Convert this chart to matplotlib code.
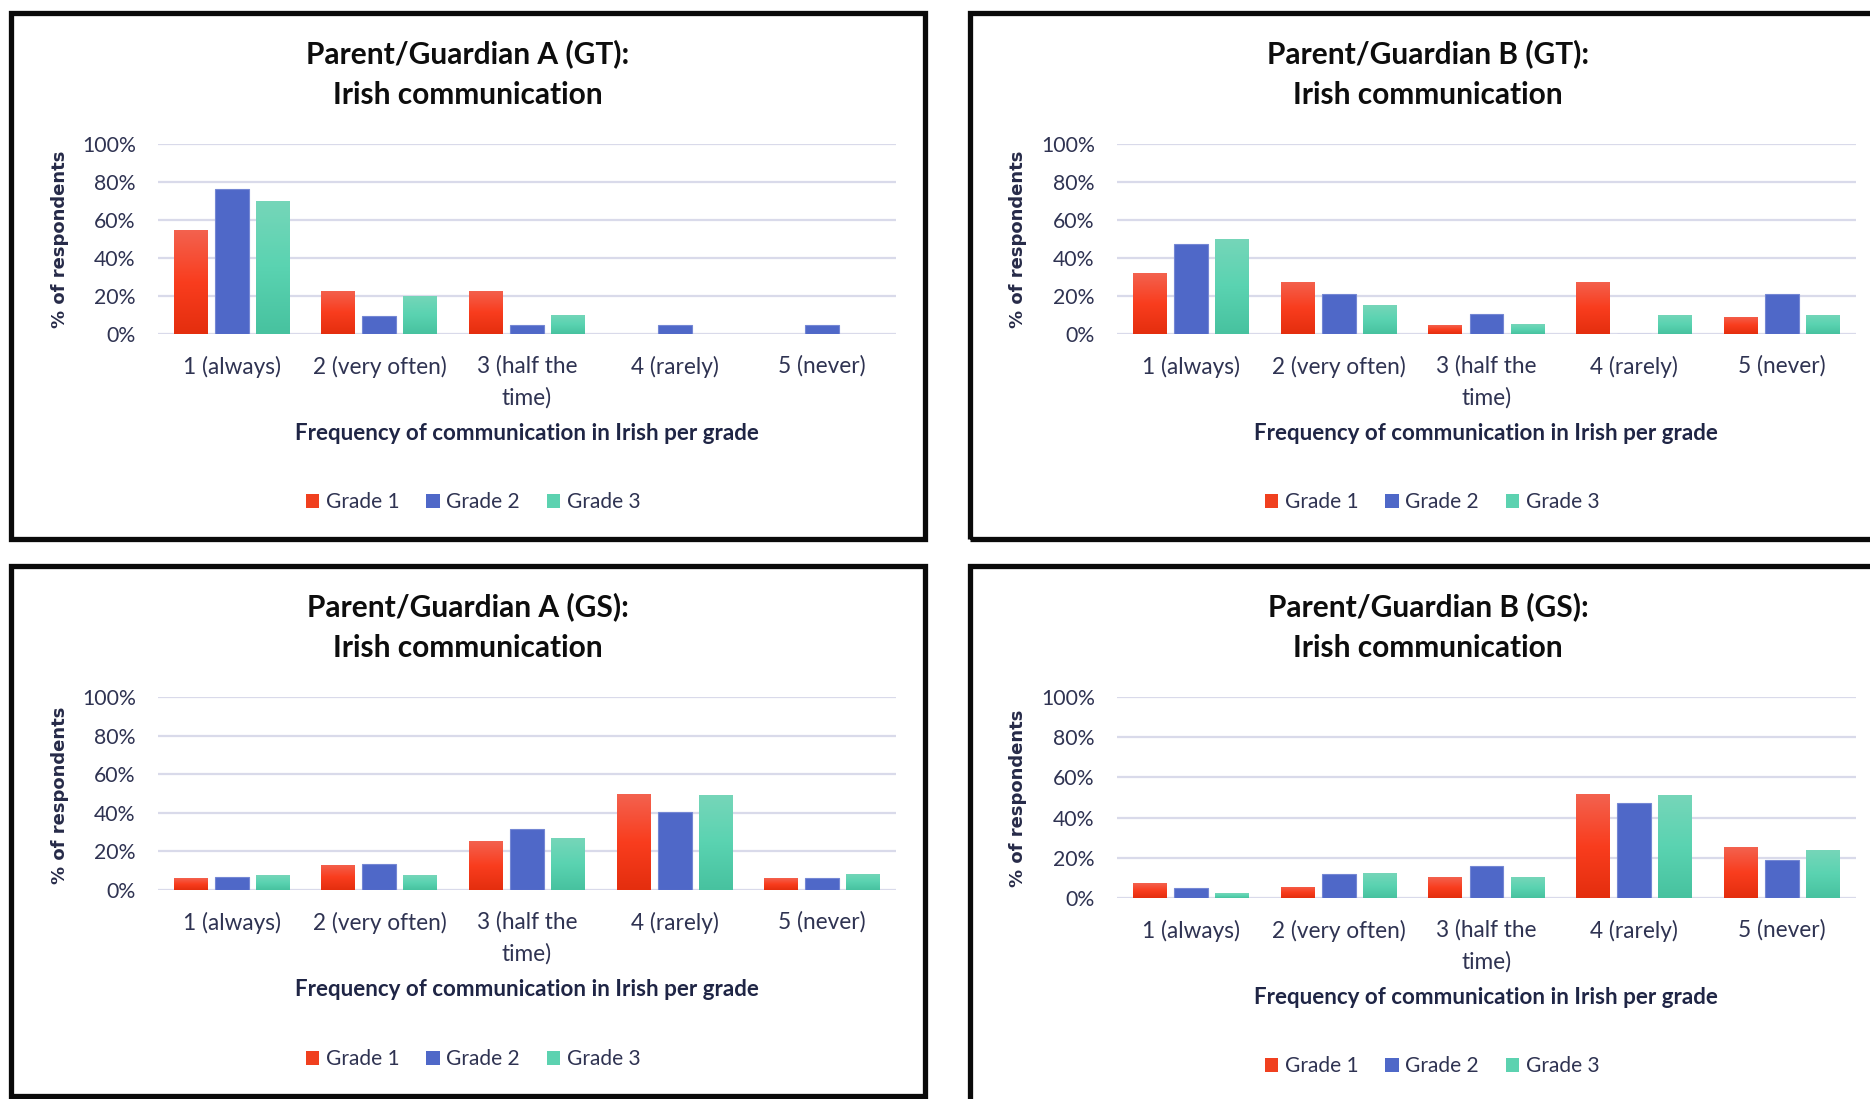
import numpy as np
import matplotlib
matplotlib.use('Agg')
import matplotlib.pyplot as plt
from matplotlib.colors import LinearSegmentedColormap
from matplotlib.patches import Rectangle, Patch

# Categories and grades
categories = ['1 (always)', '2 (very often)', '3 (half the\ntime)', '4 (rarely)', '5 (never)']
grades = ['Grade 1', 'Grade 2', 'Grade 3']

# % of respondents
a_gt_g1 = [54.5, 22.7, 22.7, 0, 0]
a_gt_g2 = [76.2, 9.5, 4.8, 4.8, 4.8]
a_gt_g3 = [70, 20, 10, 0, 0]

b_gt_g1 = [31.8, 27.3, 4.5, 27.3, 9.1]
b_gt_g2 = [47.4, 21.1, 10.5, 0, 21.1]
b_gt_g3 = [50, 15, 5, 10, 10]

a_gs_g1 = [6.0, 13.2, 25.2, 49.5, 6.0]
a_gs_g2 = [6.9, 13.6, 31.4, 40.3, 6.0]
a_gs_g3 = [7.6, 7.6, 26.7, 49.0, 8.5]

b_gs_g1 = [7.3, 5.7, 10.3, 51.6, 25.3]
b_gs_g2 = [5.2, 12.0, 16.0, 47.4, 18.8]
b_gs_g3 = [2.3, 12.2, 10.3, 51.0, 23.7]

titles = ['Parent/Guardian A (GT):\nIrish communication',
          'Parent/Guardian B (GT):\nIrish communication',
          'Parent/Guardian A (GS):\nIrish communication',
          'Parent/Guardian B (GS):\nIrish communication']
xlabel = 'Frequency of communication in Irish per grade'
ylabel = '% of respondents'

plt.rcParams['font.family'] = ['Lato', 'DejaVu Sans']

W, H = 1870, 1099
fig = plt.figure(figsize=(W / 100, H / 100), dpi=100)


def fx(x):
    return x / W


def fy(y):
    return 1 - y / H


# bar styles: gradient (bottom -> top) for grade 1 and grade 3
red_cmap = LinearSegmentedColormap.from_list('r', ['#E42E0E', '#F93D1E', '#F3624F'])
green_cmap = LinearSegmentedColormap.from_list('g', ['#47C29F', '#5AD3B1', '#76D6B9'])
grad = np.linspace(0, 1, 256).reshape(-1, 1)

tick_col = '#2F3352'
navy = '#1F2545'

# layout of each panel in pixels
panels = [
    dict(data=[a_gt_g1, a_gt_g2, a_gt_g3], border=(11, 13, 925, 539), axes=(158, 143.5, 896, 334),
         tx=468, ty=74, xl=(527, 433), lg=(473, 502), yl=(60, 239)),
    dict(data=[b_gt_g1, b_gt_g2, b_gt_g3], border=(970, 13, 1890, 539), axes=(1117, 143.5, 1856, 334),
         tx=1428, ty=74, xl=(1486, 433), lg=(1432, 502), yl=(1018, 239)),
    dict(data=[a_gs_g1, a_gs_g2, a_gs_g3], border=(11, 566, 925, 1096), axes=(158, 697, 896, 890),
         tx=468, ty=627, xl=(527, 990), lg=(473, 1059), yl=(60, 795)),
    dict(data=[b_gs_g1, b_gs_g2, b_gs_g3], border=(970, 566, 1890, 1110), axes=(1117, 697, 1856, 898),
         tx=1428, ty=627, xl=(1486, 998), lg=(1432, 1066), yl=(1018, 798)),
]

x = np.arange(len(categories))
bw = 0.23
offsets = [-0.278, 0, 0.278]

for p, title in zip(panels, titles):
    bx0, by0, bx1, by1 = p['border']
    fig.patches.append(Rectangle((fx(bx0), fy(by1)), fx(bx1 - bx0), (by1 - by0) / H,
                                 transform=fig.transFigure, fill=False,
                                 edgecolor='#0a0a0a', linewidth=3.8, zorder=0))
    ax0, ay0, ax1, ay1 = p['axes']
    ax = fig.add_axes([fx(ax0), fy(ay1), fx(ax1 - ax0), (ay1 - ay0) / H])

    for gi, vals in enumerate(p['data']):
        pos = x + offsets[gi]
        if gi == 1:
            ax.bar(pos, vals, bw, color='#4F68C8', edgecolor='#7487D4', linewidth=0.8, zorder=3)
        else:
            bars = ax.bar(pos, vals, bw, color='none', linewidth=0, zorder=3)
            cmap = red_cmap if gi == 0 else green_cmap
            for b, xp, v in zip(bars, pos, vals):
                if v <= 0:
                    continue
                im = ax.imshow(grad, extent=[xp - bw / 2, xp + bw / 2, 0, v], origin='lower',
                               aspect='auto', cmap=cmap, zorder=3)
                im.set_clip_path(b)

    ax.set_xlim(-0.5, len(categories) - 0.5)
    ax.set_ylim(0, 100)
    ax.set_yticks(range(0, 101, 20))
    ax.set_yticklabels([f'{v}%' for v in range(0, 101, 20)])
    ax.set_xticks(x)
    ax.set_xticklabels(categories, linespacing=1.55)
    ax.tick_params(length=0, colors=tick_col)
    ax.tick_params(axis='y', pad=16, labelsize=15.3)
    ax.tick_params(axis='x', pad=15.5, labelsize=16.3)
    ax.grid(axis='y', color='#D9DAEA', linewidth=1.6, zorder=0)
    ax.set_axisbelow(True)
    for s in ax.spines.values():
        s.set_visible(False)

    fig.text(fx(p['tx']), fy(p['ty']), title, ha='center', va='center', fontsize=21.5,
             fontweight='bold', color='#0D0D0D', linespacing=1.55)
    fig.text(fx(p['xl'][0]), fy(p['xl'][1]), xlabel, ha='center', va='center', fontsize=16.1,
             fontweight='bold', color=navy)
    fig.text(fx(p['yl'][0]), fy(p['yl'][1]), ylabel, ha='center', va='center', fontsize=13,
             fontweight='bold', color='#262A48', rotation=90, family='DejaVu Sans')

    handles = [Patch(facecolor='#F0401F'), Patch(facecolor='#4F68C8'), Patch(facecolor='#5CD2B0')]
    fig.legend(handles, grades, loc='center', bbox_to_anchor=(fx(p['lg'][0]), fy(p['lg'][1])),
               ncol=3, frameon=False, fontsize=15, handlelength=0.65, handleheight=0.65,
               handletextpad=0.3, columnspacing=1.3, labelcolor=tick_col)

fig.savefig('out.png', dpi=100)
